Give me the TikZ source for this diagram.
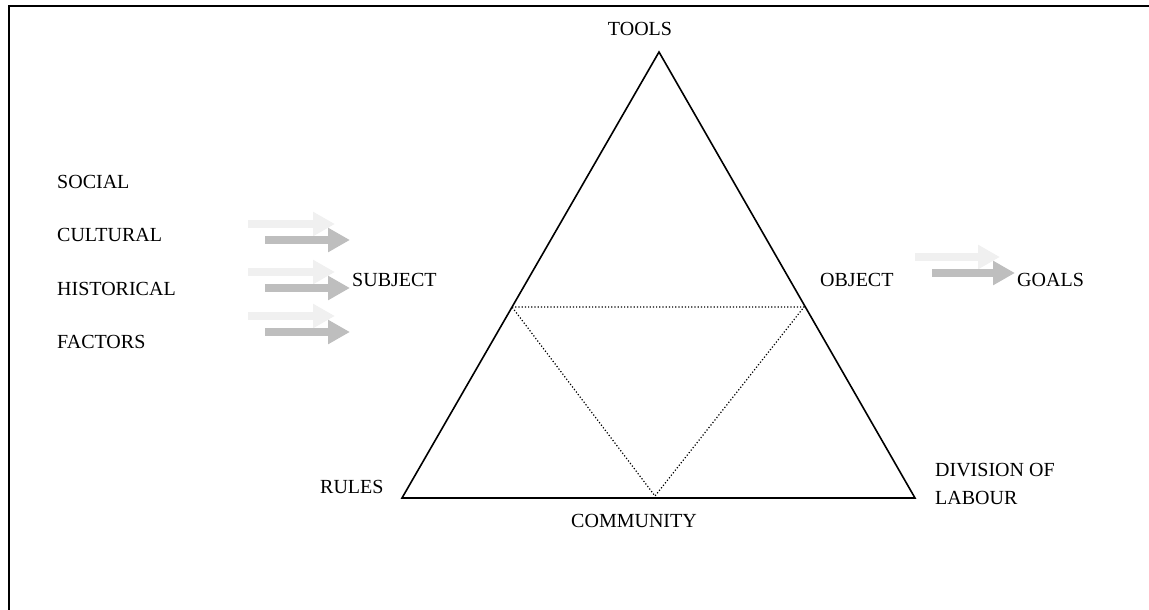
\documentclass[tikz,border=0pt]{standalone}
\usepackage{fontspec}
\setmainfont{Liberation Serif}
\usetikzlibrary{arrows.meta}
\definecolor{palegrey}{RGB}{240, 240, 240}
\definecolor{arrowgrey}{RGB}{190, 190, 190}

\begin{document}
\begin{tikzpicture}[x=1pt, y=-1pt,
		label/.style={font=\fontsize{20}{28}\selectfont, inner sep=0pt, anchor=west},
		fat/.style={line width=8pt, -{Triangle[length=22pt, width=23pt]}}]
			\useasboundingbox (0, 0) rectangle (1149, 610);
			\draw [line width=1.5pt] (9, 610) |- (1149, 6);
			% outer triangle
			\coordinate (apex) at (659, 52);
			\coordinate (baseL) at (402, 498);
			\coordinate (baseR) at (915, 498);
			\draw [line width=1.6pt, line join=miter] (apex) -- (baseL) -- (baseR) -- cycle;
			% inner triangle
			\coordinate (midL) at (512, 307);
			\coordinate (midR) at (804, 307);
			\coordinate (midB) at (655, 496);
			\draw [dotted, line width=1.2pt] (midL) -- (midR) -- (midB) -- cycle;
			% labels
			\node [label, anchor=center] (tools) at (640, 29) {TOOLS};
			\node [label] (social) at (57, 182) {SOCIAL};
			\node [label] (cultural) at (57, 235) {CULTURAL};
			\node [label] (historical) at (57, 289) {HISTORICAL};
			\node [label] (factors) at (57, 342) {FACTORS};
			\node [label] (subject) at (352, 280) {SUBJECT};
			\node [label] (object) at (820, 280) {OBJECT};
			\node [label] (goals) at (1017, 280) {GOALS};
			\node [label] (rules) at (320, 487) {RULES};
			\node [label, anchor=center] (community) at (634, 521) {COMMUNITY};
			\node [label, align=left, anchor=north west] (division) at (935, 463) {DIVISION OF\\LABOUR};
			% arrows
			\draw [fat, palegrey] (248, 224) -- (335, 224);
			\draw [fat, arrowgrey] (265, 240) -- (350, 240);
			\draw [fat, palegrey] (248, 272) -- (335, 272);
			\draw [fat, arrowgrey] (265, 288) -- (350, 288);
			\draw [fat, palegrey] (248, 316) -- (335, 316);
			\draw [fat, arrowgrey] (265, 332) -- (350, 332);
			\draw [fat, palegrey] (915, 257) -- (1000, 257);
			\draw [fat, arrowgrey] (932, 273) -- (1015, 273);
		\end{tikzpicture}
\end{document}
